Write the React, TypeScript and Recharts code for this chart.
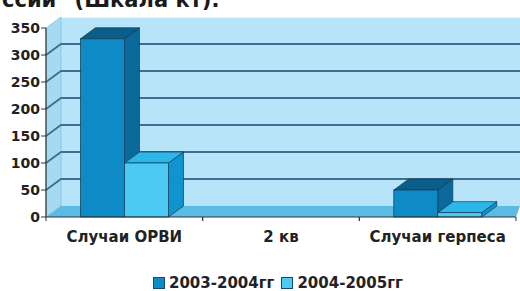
import React from "react";
import { BarChart, Bar, XAxis, YAxis, CartesianGrid } from "recharts";

const categories = ["Случаи ОРВИ", "2 кв", "Случаи герпеса"];
const series2003 = [330, 0, 50];
const series2004 = [100, 0, 8];
const seriesNames = ["2003-2004гг", "2004-2005гг"];
const yTicks = [0, 50, 100, 150, 200, 250, 300, 350];

const data = categories.map((name, i) => ({
  name,
  s1: series2003[i],
  s2: series2004[i],
}));

const W = 520;
const H = 291;
const MARGIN = { top: 28, right: 4, left: 0, bottom: 44 };
const Y_AXIS_W = 46;
const X_AXIS_H = 30;
const DX = 15; // 3d depth
const DY = -11;
const FONT = "'DejaVu Sans', sans-serif";

const BAR_COLORS = [
  { front: "#0e8ac6", top: "#0b5e89", side: "#0a6a9c" },
  { front: "#4ccaf4", top: "#2cb6ea", side: "#0f94cd" },
];

const bandSize = (W - Y_AXIS_W - MARGIN.left - MARGIN.right) / categories.length;

function make3DBar(colors: { front: string; top: string; side: string }) {
  return (props: any) => {
    const { x, y, width, height } = props;
    if (!height || height <= 0 || width == null) return <g />;
    const h = height;
    const stroke = "#0f3a52";
    return (
      <g>
        <polygon
          points={`${x + width},${y} ${x + width + DX},${y + DY} ${x + width + DX},${y + h + DY} ${x + width},${y + h}`}
          fill={colors.side}
          stroke={stroke}
          strokeWidth={0.7}
        />
        <polygon
          points={`${x},${y} ${x + DX},${y + DY} ${x + width + DX},${y + DY} ${x + width},${y}`}
          fill={colors.top}
          stroke={stroke}
          strokeWidth={0.7}
        />
        <rect x={x} y={y} width={width} height={h} fill={colors.front} stroke={stroke} strokeWidth={0.7} />
      </g>
    );
  };
}

// grid line renderer also paints the walls and floor on its first call
function gridLine(props: any) {
  const { x1, y1, index, x, y, width, height } = props;
  const bottom = y + height;
  const walls =
    index === 0 ? (
      <g>
        <rect x={x + DX} y={y + DY} width={W - x - DX} height={height} fill="#b7e4f8" />
        <line x1={x + DX} y1={y + DY + 0.5} x2={W} y2={y + DY + 0.5} stroke="#e6f6fd" strokeWidth={1} />
        <polygon
          points={`${x},${y} ${x + DX},${y + DY} ${x + DX},${bottom + DY} ${x},${bottom}`}
          fill="#a6daf1"
          stroke="#7fc3e3"
          strokeWidth={0.8}
        />
        <polygon
          points={`${x},${bottom} ${x + DX},${bottom + DY} ${W},${bottom + DY} ${x + width},${bottom}`}
          fill="#5cbbe3"
        />
      </g>
    ) : null;
  const skip = Math.abs(y1 - y) < 1 || Math.abs(y1 - bottom) < 1;
  return (
    <g key={`gl-${index}`}>
      {walls}
      {!skip && (
        <polyline
          points={`${x1},${y1} ${x1 + DX},${y1 + DY} ${W},${y1 + DY}`}
          fill="none"
          stroke="#3f6f8e"
          strokeWidth={1.8}
        />
      )}
    </g>
  );
}

function XTick(props: any) {
  const { x, y, payload } = props;
  return (
    <g>
      <line x1={x - bandSize / 2} y1={y} x2={x - bandSize / 2} y2={y + 4} stroke="#333" />
      <line x1={x + bandSize / 2} y1={y} x2={x + bandSize / 2} y2={y + 4} stroke="#333" />
      <text
        x={x}
        y={y}
        dy={25}
        textAnchor="middle"
        fontFamily={FONT}
        fontWeight="bold"
        fontSize={15}
        fill="#222"
      >
        {payload.value}
      </text>
    </g>
  );
}

export default function App() {
  return (
    <div style={{ position: "absolute", left: 0, top: 0, width: W, height: H, background: "#fff", overflow: "hidden" }}>
      <BarChart width={W} height={H} data={data} margin={MARGIN} barCategoryGap="22%" barGap={0}>
        <text x={2} y={7} fontFamily={FONT} fontWeight="bold" fontSize={21} fill="#1a1a1a">
          ссии" (Шкала кт).
        </text>
        <CartesianGrid vertical={false} horizontal={gridLine} />
        <YAxis
          width={Y_AXIS_W}
          domain={[0, 350]}
          ticks={yTicks}
          interval={0}
          tickSize={5}
          tickMargin={1}
          axisLine={{ stroke: "#333", strokeWidth: 1.2 }}
          tickLine={{ stroke: "#333" }}
          tick={{ fontFamily: FONT, fontWeight: "bold", fontSize: 14, fill: "#222" }}
        />
        <XAxis
          dataKey="name"
          height={X_AXIS_H}
          tickSize={0}
          tickMargin={0}
          tickLine={false}
          axisLine={{ stroke: "#333", strokeWidth: 1.2 }}
          tick={<XTick />}
          interval={0}
        />
        <Bar dataKey="s1" name={seriesNames[0]} isAnimationActive={false} shape={make3DBar(BAR_COLORS[0])} />
        <Bar dataKey="s2" name={seriesNames[1]} isAnimationActive={false} shape={make3DBar(BAR_COLORS[1])} />
      </BarChart>
      <div
        style={{
          position: "absolute",
          left: 153,
          top: 276,
          display: "flex",
          alignItems: "center",
          fontFamily: FONT,
          fontWeight: "bold",
          fontSize: 15,
          color: "#222",
          whiteSpace: "nowrap",
        }}
      >
        {seriesNames.map((n, i) => (
          <div key={n} style={{ display: "flex", alignItems: "center", marginRight: 7 }}>
            <span
              style={{
                width: 10,
                height: 10,
                background: BAR_COLORS[i].front,
                border: "1px solid #1d4a63",
                marginRight: 4,
                display: "inline-block",
              }}
            />
            <span style={{ lineHeight: "14px" }}>{n}</span>
          </div>
        ))}
      </div>
    </div>
  );
}
